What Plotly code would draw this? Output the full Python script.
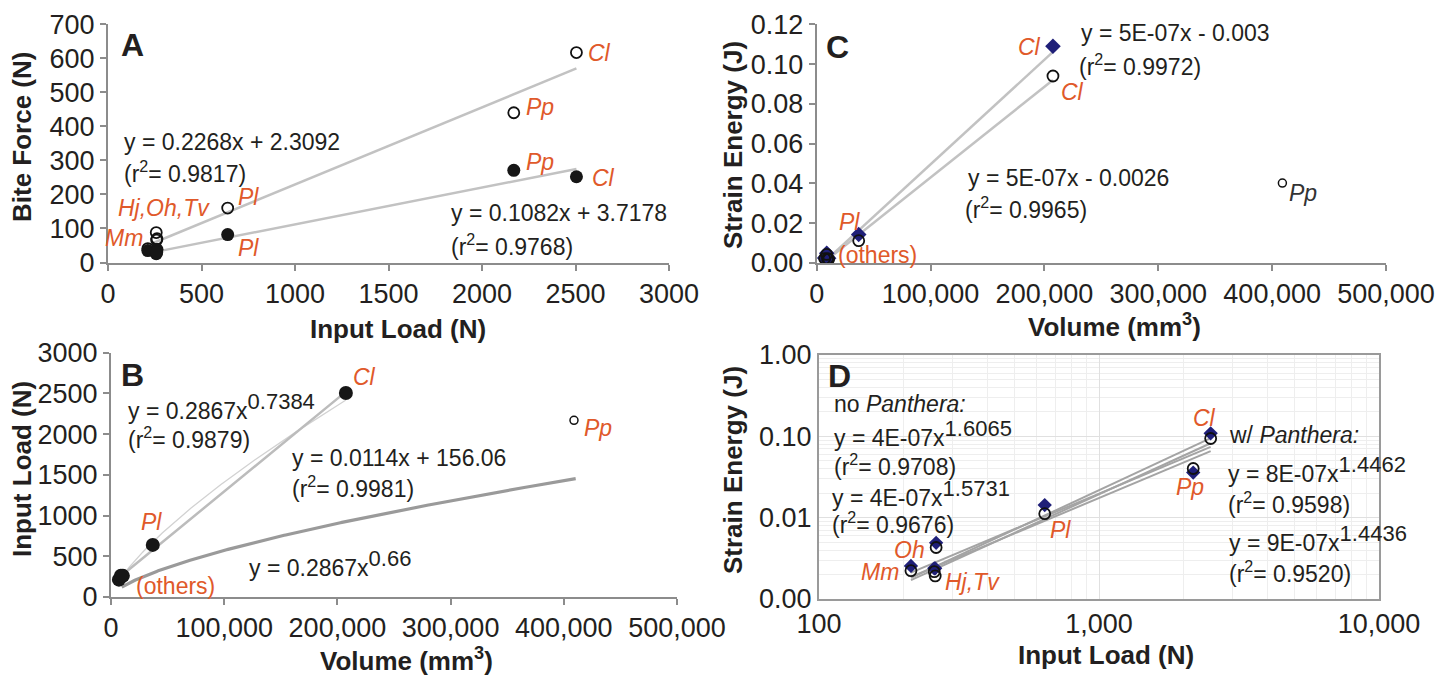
import numpy as np
import plotly.graph_objects as go

# ---------------- data ----------------
species = ["Mm", "Hj", "Oh", "Tv", "Pl", "Pp", "Cl"]
input_load = [213, 258, 262, 260, 640, 2170, 2505]          # N
bite_force_open = [41, 88, 70, 66, 160, 440, 617]            # N (open circles)
bite_force_filled = [35, 26, 38, 30, 82, 271, 252]           # N (filled circles)
volume = [7000, 9500, 8800, 10500, 36900, 409000, 207500]    # mm^3
strain_diamond = [0.00255, 0.00238, 0.0049, 0.00238, 0.0143, 0.0358, 0.109]  # J
strain_circle = [0.00223, 0.00217, 0.0043, 0.00192, 0.0112, 0.0402, 0.094]   # J

fitA_slope = [0.2268, 0.1082]
fitA_icpt = [2.3092, 3.7178]
fitB_lin = [0.0114, 156.06]
fitB_pow_coef = [0.2867, 0.2867]
fitB_pow_exp = [0.7384, 0.66]
fitC_slope = [5.26e-7, 4.56e-7]
fitC_icpt = [-0.003, -0.0026]
fitD_coef = [3.3e-7, 3.7e-7, 8.0e-7, 9.2e-7]
fitD_exp = [1.6065, 1.5731, 1.4462, 1.4436]

# ---------------- style ----------------
OFF = 8                      # page body margin of the html page
W, H = 1448 - OFF, 675 - OFF
FONT = "Liberation Sans, Arial, Helvetica, sans-serif"
TXT = "#231f20"
ORANGE = "#e0592a"
NAVY = "#1f1f78"
AXC = "#8c8c8c"

def px(x):
    return (x - OFF) / W

def py(y):
    return 1 - (y - OFF) / H

def ex(s):
    """full-size raised exponent"""
    return "<sup><span style='font-size:22px'>%s</span></sup>" % s

fig = go.Figure()

sp = np.array(species)
il = np.array(input_load, dtype=float)
vol = np.array(volume, dtype=float)
sd = np.array(strain_diamond)
sc = np.array(strain_circle)
noPp = sp != "Pp"
isPp = sp == "Pp"

open_marker = dict(symbol="circle-open", color="#111111", size=11, line=dict(width=1.8))
fill_marker = dict(symbol="circle", color="#161616", size=13)
dia_marker = dict(symbol="diamond", color=NAVY, size=12)

# ---------------- Panel A ----------------
xa = np.array([il.min(), il.max()])
for m, b in zip(fitA_slope, fitA_icpt):
    fig.add_trace(go.Scatter(x=xa, y=m * xa + b, mode="lines",
                             line=dict(color="#c2c2c2", width=2.5),
                             xaxis="x", yaxis="y", showlegend=False, hoverinfo="skip"))
fig.add_trace(go.Scatter(x=input_load, y=bite_force_open, mode="markers",
                         marker=open_marker, xaxis="x", yaxis="y", showlegend=False))
fig.add_trace(go.Scatter(x=input_load, y=bite_force_filled, mode="markers",
                         marker=fill_marker, xaxis="x", yaxis="y", showlegend=False))

# ---------------- Panel B ----------------
xb = np.linspace(vol[noPp].min(), vol[noPp].max(), 200)
fig.add_trace(go.Scatter(x=xb, y=fitB_pow_coef[0] * xb ** fitB_pow_exp[0], mode="lines",
                         line=dict(color="#d2d2d2", width=1.3),
                         xaxis="x2", yaxis="y2", showlegend=False, hoverinfo="skip"))
fig.add_trace(go.Scatter(x=xb, y=fitB_lin[0] * xb + fitB_lin[1], mode="lines",
                         line=dict(color="#bcbcbc", width=2.5),
                         xaxis="x2", yaxis="y2", showlegend=False, hoverinfo="skip"))
xb2 = np.linspace(vol.min() + 2500, vol.max() + 1500, 300)
fig.add_trace(go.Scatter(x=xb2, y=fitB_pow_coef[1] * xb2 ** fitB_pow_exp[1], mode="lines",
                         line=dict(color="#9a9a9a", width=3.2),
                         xaxis="x2", yaxis="y2", showlegend=False, hoverinfo="skip"))
fig.add_trace(go.Scatter(x=vol[noPp], y=il[noPp], mode="markers",
                         marker=dict(symbol="circle", color="#161616", size=14),
                         xaxis="x2", yaxis="y2", showlegend=False))
fig.add_trace(go.Scatter(x=vol[isPp], y=il[isPp], mode="markers",
                         marker=dict(symbol="circle-open", color="#111111", size=8, line=dict(width=1.5)),
                         xaxis="x2", yaxis="y2", showlegend=False))

# ---------------- Panel C ----------------
xc = np.array([vol[noPp].min(), vol[noPp].max()])
for m, b in zip(fitC_slope, fitC_icpt):
    fig.add_trace(go.Scatter(x=xc, y=m * xc + b, mode="lines",
                             line=dict(color="#c2c2c2", width=2.5),
                             xaxis="x3", yaxis="y3", showlegend=False, hoverinfo="skip"))
fig.add_trace(go.Scatter(x=vol[noPp], y=sd[noPp], mode="markers", marker=dia_marker,
                         xaxis="x3", yaxis="y3", showlegend=False))
fig.add_trace(go.Scatter(x=vol[noPp], y=sc[noPp], mode="markers", marker=open_marker,
                         xaxis="x3", yaxis="y3", showlegend=False))
fig.add_trace(go.Scatter(x=vol[isPp], y=sc[isPp], mode="markers",
                         marker=dict(symbol="circle-open", color="#111111", size=8, line=dict(width=1.5)),
                         xaxis="x3", yaxis="y3", showlegend=False))

# ---------------- Panel D ----------------
xd = np.geomspace(il.min(), il.max(), 100)
for a, k in zip(fitD_coef, fitD_exp):
    fig.add_trace(go.Scatter(x=xd, y=a * xd ** k, mode="lines",
                             line=dict(color="#a4a4a4", width=2),
                             xaxis="x4", yaxis="y4", showlegend=False, hoverinfo="skip"))
fig.add_trace(go.Scatter(x=input_load, y=strain_diamond, mode="markers",
                         marker=dict(symbol="diamond", color=NAVY, size=11),
                         xaxis="x4", yaxis="y4", showlegend=False))
fig.add_trace(go.Scatter(x=input_load, y=strain_circle, mode="markers", marker=open_marker,
                         xaxis="x4", yaxis="y4", showlegend=False))

# ---------------- axes ----------------
tickfont = dict(family=FONT, size=27, color=TXT)

def lin_axis(domain, rng, dtick, anchor, fmt=None):
    d = dict(domain=domain, range=rng, dtick=dtick, tick0=0, anchor=anchor,
             showline=True, linecolor=AXC, linewidth=2, ticks="outside", ticklen=6,
             tickcolor=AXC, tickwidth=1.5, showgrid=False, zeroline=False,
             tickfont=tickfont, fixedrange=True, automargin=False)
    if fmt:
        d["tickformat"] = fmt
    return d

minor_x = [m * 10 ** e for e in (2, 3) for m in range(2, 10)]
minor_y = [m * 10.0 ** e for e in (-3, -2, -1) for m in range(2, 10)]

fig.update_layout(
    width=W, height=H, margin=dict(l=0, r=0, t=0, b=0, pad=0, autoexpand=False),
    paper_bgcolor="white", plot_bgcolor="white", showlegend=False,
    font=dict(family=FONT, color=TXT),
    xaxis=lin_axis([px(108), px(669)], [0, 3000], 500, "y"),
    yaxis=lin_axis([py(262.5), py(24.3)], [0, 700], 100, "x"),
    xaxis2=lin_axis([px(111), px(677)], [0, 500000], 100000, "y2", ",d"),
    yaxis2=lin_axis([py(597), py(352.7)], [0, 3000], 500, "x2"),
    xaxis3=lin_axis([px(816.7), px(1386)], [0, 500000], 100000, "y3", ",d"),
    yaxis3=lin_axis([py(263), py(24.3)], [0, 0.12], 0.02, "x3", ".2f"),
    xaxis4=dict(type="log", domain=[px(819), px(1379)], range=[2, 4], anchor="y4",
                tickvals=[100, 1000, 10000], ticktext=["100", "1,000", "10,000"],
                showline=True, mirror=True, linecolor="#9a9a9a", linewidth=2, ticks="",
                showgrid=True, gridcolor="#e0e0e0", gridwidth=1, zeroline=False,
                minor=dict(tickvals=minor_x, showgrid=True, gridcolor="#eeeeee", gridwidth=1),
                tickfont=tickfont, fixedrange=True, automargin=False),
    yaxis4=dict(type="log", domain=[py(599), py(355)], range=[-3, 0], anchor="x4",
                tickvals=[0.001, 0.01, 0.1, 1], ticktext=["0.00", "0.01", "0.10", "1.00"],
                showline=True, mirror=True, linecolor="#9a9a9a", linewidth=2, ticks="",
                showgrid=True, gridcolor="#e0e0e0", gridwidth=1, zeroline=False,
                minor=dict(tickvals=minor_y, showgrid=True, gridcolor="#eeeeee", gridwidth=1),
                tickfont=tickfont, fixedrange=True, automargin=False),
)

# white panels behind the equation text in D (above the grid, below the lines)
for x0, x1, y0, y1 in [(2.025, 2.72, -2.27, -0.45), (3.432, 3.993, -2.91, -0.83)]:
    fig.add_shape(type="rect", xref="x4", yref="y4", x0=x0, x1=x1, y0=y0, y1=y1,
                  fillcolor="white", line=dict(width=0), layer="between")

# ---------------- annotations ----------------
anns = []

def txt(text, x, y, xref, yref, size=23, color=TXT, xanchor="left", yanchor="middle",
        angle=0, align="left"):
    anns.append(dict(text=text, x=x, y=y, xref=xref, yref=yref, showarrow=False,
                     xanchor=xanchor, yanchor=yanchor, textangle=angle, align=align,
                     font=dict(family=FONT, size=size, color=color)))

def lab(text, x, y, xref, yref, xanchor="left", color=ORANGE):
    txt("<i>%s</i>" % text, x, y, xref, yref, size=23, color=color, xanchor=xanchor)

# panel letters
for letter, (lx, ly) in zip("ABCD", [(132, 45), (132, 375), (838, 47), (840, 376)]):
    txt("<b>%s</b>" % letter, px(lx), py(ly), "paper", "paper", size=32, xanchor="center")

# axis titles
for t, (tx, ty), ang in [
    ("Bite Force (N)", (22, 137), -90),
    ("Input Load (N)", (398, 329), 0),
    ("Input Load (N)", (22, 469), -90),
    ("Volume (mm<sup>3</sup>)", (406, 659), 0),
    ("Strain Energy (J)", (733, 145), -90),
    ("Volume (mm<sup>3</sup>)", (1114, 326), 0),
    ("Strain Energy (J)", (733, 470), -90),
    ("Input Load (N)", (1106, 655), 0),
]:
    txt("<b>%s</b>" % t, px(tx), py(ty), "paper", "paper", size=26, xanchor="center", angle=ang)

# Panel A
lab("Cl", 2556, 616, "x", "y")
lab("Pp", 2224, 457, "x", "y")
lab("Pl", 684, 192, "x", "y")
lab("Hj,Oh,Tv", 43, 160, "x", "y")
lab("Mm", 200, 72, "x", "y", xanchor="right")
lab("Pp", 2224, 295, "x", "y")
lab("Cl", 2577, 248, "x", "y")
lab("Pl", 684, 43, "x", "y")
txt("y = 0.2268x + 2.3092", 74, 355, "x", "y")
txt("(r<sup>2</sup>= 0.9817)", 74, 267, "x", "y")
txt("y = 0.1082x + 3.7178", 1823, 145, "x", "y")
txt("(r<sup>2</sup>= 0.9768)", 1823, 51, "x", "y")

# Panel B
lab("Cl", 211600, 2705, "x2", "y2")
lab("Pl", 24560, 925, "x2", "y2")
txt("(others)", 20300, 135, "x2", "y2", color=ORANGE)
lab("Pp", 416000, 2075, "x2", "y2")
txt("y = 0.2867x" + ex("0.7384"), 13250, 2340, "x2", "y2")
txt("(r<sup>2</sup>= 0.9879)", 13250, 1953, "x2", "y2")
txt("y = 0.0114x + 156.06", 158100, 1711, "x2", "y2")
txt("(r<sup>2</sup>= 0.9981)", 158100, 1355, "x2", "y2")
txt("y = 0.2867x" + ex("0.66"), 119800, 410, "x2", "y2")

# Panel C
lab("Cl", 198750, 0.1085, "x3", "y3", xanchor="right")
lab("Cl", 212450, 0.0860, "x3", "y3")
lab("Pl", 17830, 0.0207, "x3", "y3")
txt("(others)", 16950, 0.0040, "x3", "y3", color=ORANGE)
lab("Pp", 413050, 0.0350, "x3", "y3", color="#333333")
txt("y = 5E-07x - 0.003", 230800, 0.1154, "x3", "y3")
txt("(r<sup>2</sup>= 0.9972)", 228600, 0.0995, "x3", "y3")
txt("y = 5E-07x - 0.0026", 131560, 0.0425, "x3", "y3")
txt("(r<sup>2</sup>= 0.9965)", 128300, 0.0275, "x3", "y3")

# Panel D (log axes: positions in log10 units)
txt("no <i>Panthera:</i>", 2.045, -0.600, "x4", "y4")
txt("y = 4E-07x" + ex("1.6065"), 2.045, -0.97, "x4", "y4")
txt("(r<sup>2</sup>= 0.9708)", 2.045, -1.35, "x4", "y4")
txt("y = 4E-07x" + ex("1.5731"), 2.039, -1.70, "x4", "y4")
txt("(r<sup>2</sup>= 0.9676)", 2.039, -2.07, "x4", "y4")
txt("w/ <i>Panthera:</i>", 3.457, -0.980, "x4", "y4")
txt("y = 8E-07x" + ex("1.4462"), 3.454, -1.41, "x4", "y4")
txt("(r<sup>2</sup>= 0.9598)", 3.454, -1.821, "x4", "y4")
txt("y = 9E-07x" + ex("1.4436"), 3.457, -2.25, "x4", "y4")
txt("(r<sup>2</sup>= 0.9520)", 3.457, -2.664, "x4", "y4")
lab("Cl", 3.375, -0.775, "x4", "y4", xanchor="center")
lab("Pp", 3.325, -1.617, "x4", "y4", xanchor="center")
lab("Pl", 2.8625, -2.150, "x4", "y4", xanchor="center")
lab("Oh", 2.386, -2.40, "x4", "y4", xanchor="right")
lab("Mm", 2.293, -2.664, "x4", "y4", xanchor="right")
lab("Hj,Tv", 2.443, -2.787, "x4", "y4")

fig.update_layout(annotations=anns)
fig.write_html("out.html")
